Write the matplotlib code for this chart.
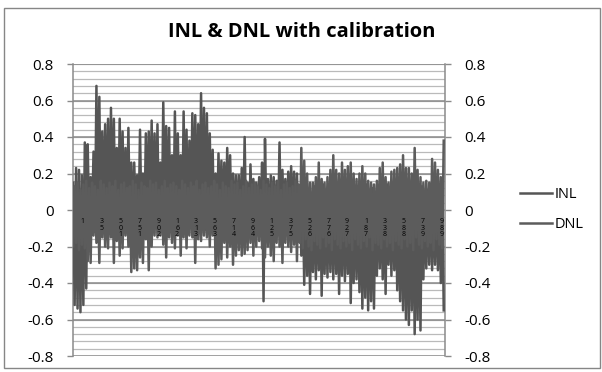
import numpy as np
import matplotlib
matplotlib.use('Agg')
import matplotlib.pyplot as plt
from matplotlib.patches import Rectangle
from matplotlib.transforms import offset_copy

plt.rcParams['font.family'] = ['Open Sans', 'DejaVu Sans']

# codes 1..1024, every 4th code
code = np.arange(1, 1025, 4)

# INL: teeth (hi) alternating with lows (lo)
inl_hi = [0.15, 0.23, 0.22, 0.19, 0.37, 0.36, 0.18, 0.32, 0.68, 0.62,
          0.43, 0.47, 0.50, 0.56, 0.50, 0.34, 0.50, 0.43, 0.34, 0.45,
          0.26, 0.26, 0.19, 0.44, 0.20, 0.42, 0.43, 0.49, 0.42, 0.47,
          0.26, 0.59, 0.46, 0.45, 0.30, 0.54, 0.42, 0.30, 0.54, 0.44,
          0.38, 0.53, 0.52, 0.47, 0.64, 0.56, 0.53, 0.42, 0.33, 0.20,
          0.31, 0.27, 0.26, 0.34, 0.30, 0.20, 0.19, 0.19, 0.23, 0.40,
          0.15, 0.25, 0.17, 0.15, 0.18, 0.26, 0.39, 0.17, 0.19, 0.18,
          0.16, 0.37, 0.22, 0.17, 0.21, 0.24, 0.21, 0.20,
          0.12, 0.08, 0.14, 0.10, 0.06, 0.13, 0.09, 0.11, 0.14, 0.07,
          0.12, 0.10, 0.13, 0.08, 0.11, 0.14, 0.09, 0.12, 0.06, 0.10,
          0.13, 0.11, 0.08, 0.14, 0.10, 0.12, 0.07, 0.13, 0.09, 0.11,
          0.14, 0.08, 0.12, 0.10, 0.06, 0.13, 0.11, 0.09, 0.14, 0.12,
          0.08, 0.10, 0.13, 0.07, 0.11, 0.14, 0.09, 0.12, 0.10, 0.13]
inl_lo = [-0.52, -0.54, -0.56, -0.52, -0.43, -0.10, -0.06, -0.12, -0.08, -0.11,
          -0.05, -0.09, -0.13, -0.07, -0.10, -0.12, -0.06, -0.09, -0.11, -0.08,
          -0.13, -0.05, -0.10, -0.07, -0.12, -0.09, -0.06, -0.11, -0.08, -0.13,
          -0.10, -0.05, -0.09, -0.12, -0.07, -0.11, -0.06, -0.10, -0.08, -0.13,
          -0.09, -0.05, -0.12, -0.07, -0.10, -0.11, -0.06, -0.09, -0.13, -0.08,
          -0.10, -0.05, -0.12, -0.07, -0.11, -0.09, -0.06, -0.13, -0.08, -0.10,
          -0.12, -0.05, -0.09, -0.07, -0.11, -0.50, -0.08, -0.12, -0.06, -0.10,
          -0.09, -0.13, -0.07, -0.11, -0.05, -0.10, -0.08, -0.12,
          -0.25, -0.41, -0.36, -0.46, -0.34, -0.38, -0.33, -0.47, -0.35, -0.37,
          -0.34, -0.38, -0.35, -0.46, -0.36, -0.39, -0.35, -0.51, -0.40, -0.38,
          -0.45, -0.54, -0.48, -0.55, -0.50, -0.54, -0.36, -0.32, -0.38, -0.46,
          -0.30, -0.36, -0.33, -0.44, -0.50, -0.55, -0.60, -0.63, -0.55, -0.68,
          -0.60, -0.66, -0.38, -0.32, -0.30, -0.33, -0.30, -0.33, -0.40, -0.55]

# DNL
dnl_hi = [0.13, 0.15, 0.11, 0.14, 0.16, 0.12, 0.15, 0.13, 0.11, 0.16,
          0.14, 0.12, 0.15, 0.13, 0.16, 0.11, 0.14, 0.15, 0.12, 0.13,
          0.16, 0.14, 0.11, 0.15, 0.13, 0.12, 0.16, 0.14, 0.15, 0.11,
          0.13, 0.16, 0.12, 0.14, 0.15, 0.13, 0.11, 0.16, 0.14, 0.12,
          0.15, 0.13, 0.16, 0.11, 0.14, 0.15, 0.12, 0.13, 0.16, 0.14,
          0.11, 0.15, 0.13, 0.12, 0.16, 0.14, 0.15, 0.11, 0.13, 0.16,
          0.12, 0.14, 0.15, 0.13, 0.11, 0.16, 0.14, 0.12, 0.15, 0.13,
          0.16, 0.11, 0.14, 0.15, 0.12, 0.13, 0.16, 0.14,
          0.34, 0.27, 0.20, 0.15, 0.15, 0.18, 0.26, 0.17, 0.15, 0.18,
          0.22, 0.30, 0.22, 0.20, 0.26, 0.22, 0.24, 0.26, 0.20, 0.17,
          0.20, 0.24, 0.20, 0.16, 0.15, 0.14, 0.16, 0.23, 0.26, 0.18,
          0.15, 0.21, 0.22, 0.23, 0.25, 0.30, 0.23, 0.23, 0.20, 0.34,
          0.22, 0.18, 0.15, 0.16, 0.15, 0.28, 0.26, 0.22, 0.18, 0.38]
dnl_lo = [-0.20, -0.18, -0.22, -0.19, -0.21, -0.28, -0.29, -0.14, -0.18, -0.29,
          -0.15, -0.20, -0.21, -0.15, -0.29, -0.17, -0.25, -0.21, -0.14, -0.20,
          -0.34, -0.32, -0.33, -0.26, -0.29, -0.16, -0.33, -0.20, -0.14, -0.15,
          -0.14, -0.19, -0.26, -0.15, -0.18, -0.21, -0.14, -0.25, -0.15, -0.21,
          -0.14, -0.15, -0.29, -0.16, -0.17, -0.14, -0.15, -0.20, -0.14, -0.32,
          -0.30, -0.27, -0.18, -0.26, -0.20, -0.30, -0.25, -0.22, -0.25, -0.24,
          -0.22, -0.18, -0.25, -0.20, -0.17, -0.21, -0.26, -0.20, -0.25, -0.28,
          -0.18, -0.20, -0.29, -0.18, -0.20, -0.23, -0.19, -0.28,
          -0.18, -0.21, -0.16, -0.20, -0.22, -0.17, -0.19, -0.21, -0.15, -0.20,
          -0.18, -0.22, -0.16, -0.19, -0.21, -0.17, -0.20, -0.18, -0.22, -0.16,
          -0.19, -0.21, -0.17, -0.20, -0.15, -0.22, -0.18, -0.19, -0.21, -0.16,
          -0.20, -0.18, -0.22, -0.17, -0.19, -0.21, -0.16, -0.20, -0.18, -0.22,
          -0.15, -0.19, -0.21, -0.17, -0.20, -0.18, -0.22, -0.16, -0.19, -0.21]

label_codes = np.arange(1, 1024, 52)   # every 52nd category gets a label
y_ticks = np.round(np.arange(-0.8, 0.81, 0.2), 1)
y_minor = np.round(np.arange(-0.8, 0.81, 0.04), 2)

inl = np.column_stack([inl_hi, inl_lo]).ravel()
dnl = np.column_stack([dnl_lo, dnl_hi]).ravel()

fig = plt.figure(figsize=(6.02, 3.72), dpi=100)
ax = fig.add_axes([73/602, 16/372, 372/602, 292/372])

# gridlines: minor every 0.04 (light), major every 0.2 (darker)
for v in y_minor:
    ax.axhline(v, color='#bababa', lw=0.9, zorder=1)
for v in y_ticks:
    ax.axhline(v, color='#8a8a8a', lw=1.1, zorder=1.5)

ax.plot(code, inl, color='#555555', lw=1.8, label='INL', zorder=3)
ax.plot(code, dnl, color='#5c5c5c', lw=1.8, label='DNL', zorder=3)

ax.set_xlim(0.5, 1024.5)
ax.set_ylim(-0.8, 0.8)

ax.set_yticks(y_ticks)
ax.set_yticklabels(['%g' % v if v else '0' for v in y_ticks])
ax.tick_params(axis='y', which='major', length=4.5, width=1, color='#8a8a8a',
               pad=9.5, labelsize=11, right=True, labelright=True)

ax.spines['bottom'].set_visible(False)
ax.spines['top'].set_visible(False)
for s in ['left', 'right']:
    ax.spines[s].set_color('#8a8a8a')
    ax.spines[s].set_linewidth(1.1)
ax.set_xticks([])

# category labels sit just under the zero line, over the data
lab_tr = offset_copy(ax.transData, fig=fig, y=-6, units='points')
for c in label_codes:
    ax.text(c + 26, 0, '\n'.join(str(c)[::-1]), transform=lab_tr,
            ha='center', va='top', fontsize=5, linespacing=0.85, zorder=5)

fig.text(0.502, 0.915, 'INL & DNL with calibration', ha='center', va='center',
         fontsize=14.5, fontweight='bold')

fig.legend(loc='center left', bbox_to_anchor=(520/602, 0.437), frameon=False,
           fontsize=10.5, handlelength=2.2, handletextpad=0.2, labelspacing=1.0,
           borderpad=0, borderaxespad=0)

fig.patches.append(Rectangle((3.5/602, 4.5/372), 596/602, 360/372, fill=False,
                             edgecolor='#868686', lw=1, transform=fig.transFigure))

fig.savefig('out.png', dpi=100)
